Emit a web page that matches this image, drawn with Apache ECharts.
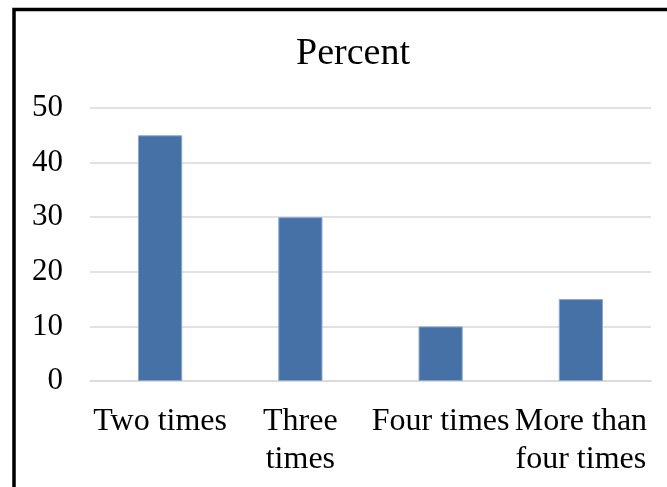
<!DOCTYPE html>
<html>
<head>
<meta charset="utf-8">
<script src="https://cdn.jsdelivr.net/npm/echarts@6/dist/echarts.min.js"></script>
<style>
  html, body { margin: 0; padding: 0; background: #fff; }
  #chart { width: 667px; height: 487px; }
</style>
</head>
<body>
<div id="chart"></div>
<script>
// Frequency categories (tick labels wrap onto two lines where needed)
const categories = ['Two times', 'Three\ntimes', 'Four times', 'More than\nfour times'];
// Share of respondents in each category, percent
const percentValues = [45, 30, 10, 15];
// Value axis ticks
const yTicks = [0, 10, 20, 30, 40, 50];

const serif = '"Liberation Serif", "Times New Roman", "DejaVu Serif", serif';

const chart = echarts.init(document.getElementById('chart'), null, { renderer: 'canvas' });

chart.setOption({
  backgroundColor: '#ffffff',
  animation: false,
  title: {
    text: 'Percent',
    left: 348,
    textAlign: 'center',
    top: 30,
    textStyle: { fontFamily: serif, fontSize: 38, fontWeight: 'normal', color: '#000' }
  },
  graphic: [{
    type: 'rect',
    shape: { x: 14, y: 9.5, width: 700, height: 520 },
    style: { fill: 'none', stroke: '#000', lineWidth: 3.5 },
    silent: true
  }],
  grid: { left: 90, right: 16, top: 108, bottom: 106, containLabel: false },
  xAxis: {
    type: 'category',
    data: categories,
    axisLine: { show: true, lineStyle: { color: '#d9d9d9', width: 1.5 } },
    axisTick: { show: false },
    axisLabel: {
      interval: 0,
      margin: 22,
      fontFamily: serif,
      fontSize: 32,
      lineHeight: 38,
      color: '#000'
    }
  },
  yAxis: {
    type: 'value',
    min: yTicks[0],
    max: yTicks[yTicks.length - 1],
    interval: yTicks[1] - yTicks[0],
    axisLine: { show: false },
    axisTick: { show: false },
    splitLine: { lineStyle: { color: '#d9d9d9', width: 1.5 } },
    axisLabel: {
      margin: 27,
      fontFamily: serif,
      fontSize: 31,
      color: '#000'
    }
  },
  series: [{
    type: 'bar',
    data: percentValues,
    barWidth: '31.5%',
    itemStyle: { color: '#4571a6', borderColor: '#8ba6cc', borderWidth: 1 }
  }]
});
</script>
</body>
</html>
